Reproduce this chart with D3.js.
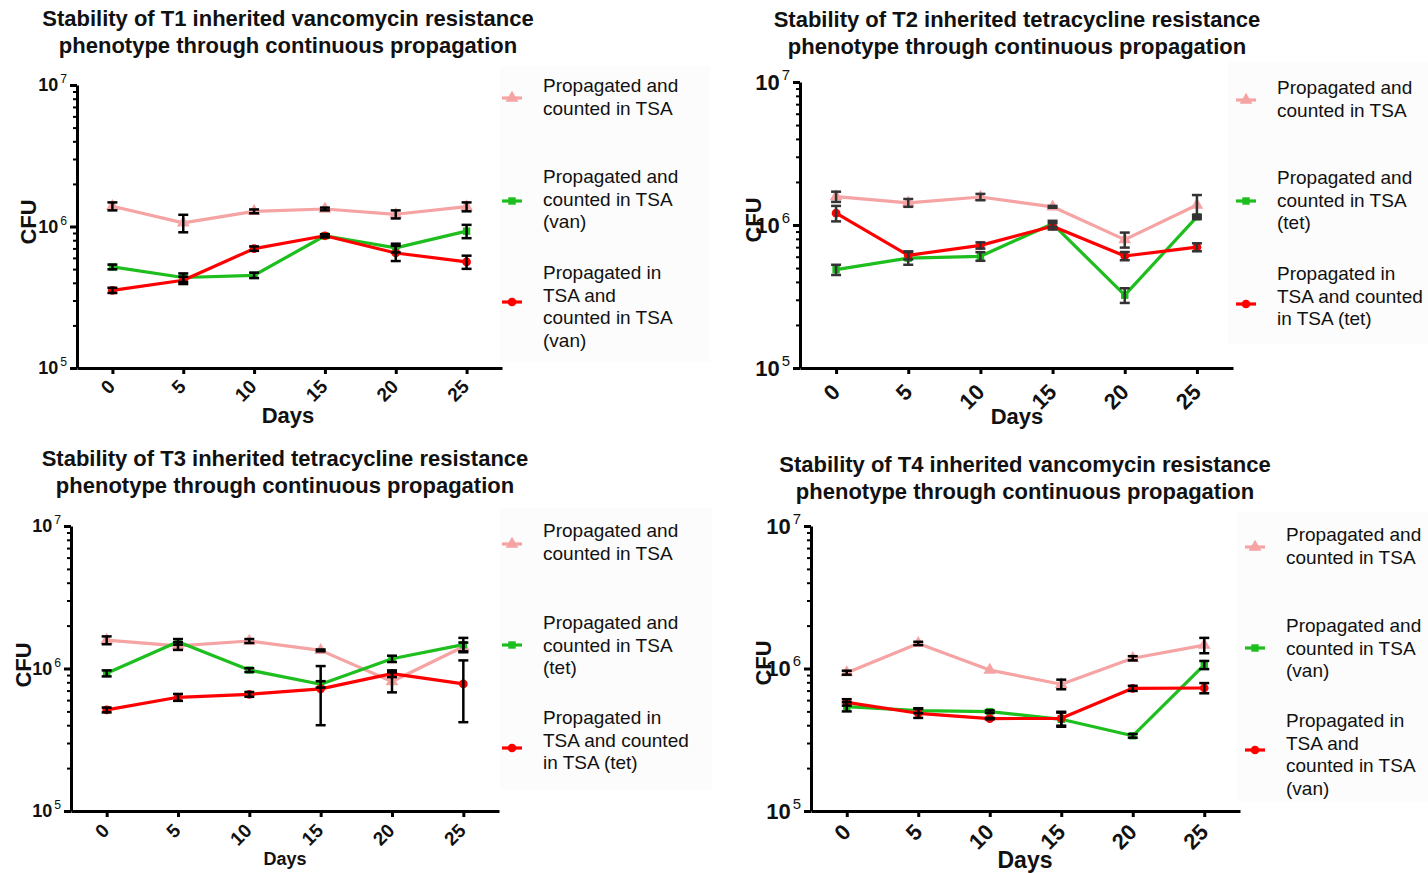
<!DOCTYPE html>
<html>
<head>
<meta charset="utf-8">
<script src="https://cdn.jsdelivr.net/npm/d3@7"></script>
<style>
  html, body { margin: 0; padding: 0; background: #ffffff; }
  svg { display: block; font-family: "Liberation Sans", Arial, sans-serif; }
</style>
</head>
<body>
<script>
// ---------------- DATA ----------------
const days = [0, 5, 10, 15, 20, 25];
const yMajorTicks = [1e5, 1e6, 1e7];
const yMinorTicks = [2e5, 3e5, 4e5, 5e5, 6e5, 7e5, 8e5, 9e5, 2e6, 3e6, 4e6, 5e6, 6e6, 7e6, 8e6, 9e6];

const titles = [
  ["Stability of T1 inherited vancomycin resistance", "phenotype through continuous propagation"],
  ["Stability of T2 inherited tetracycline resistance", "phenotype through continuous propagation"],
  ["Stability of T3 inherited tetracycline resistance", "phenotype through continuous propagation"],
  ["Stability of T4 inherited vancomycin resistance", "phenotype through continuous propagation"]
];
const xAxisLabel = "Days";
const yAxisLabel = "CFU";

const legendVan = [["Propagated and", "counted in TSA"], ["Propagated and", "counted in TSA", "(van)"], ["Propagated in", "TSA and", "counted in TSA", "(van)"]];
const legendTet = [["Propagated and", "counted in TSA"], ["Propagated and", "counted in TSA", "(tet)"], ["Propagated in", "TSA and counted", "in TSA (tet)"]];

// T1 (vancomycin)
const t1TSA = [1.39e6, 1.06e6, 1.28e6, 1.33e6, 1.22e6, 1.38e6];
const t1TSAErr = [0.09e6, 0.15e6, 0.04e6, 0.03e6, 0.08e6, 0.1e6];
const t1Drug = [5.18e5, 4.36e5, 4.52e5, 8.6e5, 7.06e5, 9.27e5];
const t1DrugErr = [0.2e5, 0.3e5, 0.2e5, 0.2e5, 0.5e5, 1.0e5];
const t1Prop = [3.54e5, 4.17e5, 6.98e5, 8.6e5, 6.5e5, 5.62e5];
const t1PropErr = [0.15e5, 0.25e5, 0.25e5, 0.2e5, 0.8e5, 0.6e5];

// T2 (tetracycline)
const t2TSA = [1.58e6, 1.43e6, 1.57e6, 1.34e6, 7.9e5, 1.38e6];
const t2TSAErr = [0.13e6, 0.09e6, 0.08e6, 0.02e6, 0.95e5, 0.24e6];
const t2Drug = [4.87e5, 5.87e5, 6.04e5, 1.02e6, 3.23e5, 1.14e6];
const t2DrugErr = [0.4e5, 0.6e5, 0.42e5, 0.5e5, 0.38e5, 0.4e5];
const t2Prop = [1.21e6, 6.14e5, 7.2e5, 9.8e5, 6.07e5, 7.0e5];
const t2PropErr = [0.15e6, 0.4e5, 0.36e5, 0.5e5, 0.4e5, 0.45e5];

// T3 (tetracycline)
const t3TSA = [1.58e6, 1.44e6, 1.56e6, 1.34e6, 8.1e5, 1.42e6];
const t3TSAErr = [0.1e6, 0.09e6, 0.05e6, 0.02e6, 1.3e5, 0.1e6];
const t3Drug = [9.25e5, 1.54e6, 9.75e5, 7.75e5, 1.17e6, 1.47e6];
const t3DrugErr = [0.45e5, 0.07e6, 0.3e5, 0.4e5, 0.06e6, 0.17e6];
const t3Prop = [5.12e5, 6.28e5, 6.59e5, 7.2e5, 9.2e5, 7.8e5];
const t3PropErr = [0.2e5, 0.35e5, 0.25e5, 3.2e5, 0.5e5, 3.6e5];

// T4 (vancomycin)
const t4TSA = [9.35e5, 1.5e6, 9.75e5, 7.75e5, 1.18e6, 1.46e6];
const t4TSAErr = [0.03e6, 0.04e6, 0, 0.06e6, 0.04e6, 0.18e6];
const t4Drug = [5.4e5, 5.06e5, 4.98e5, 4.4e5, 3.37e5, 1.06e6];
const t4DrugErr = [0.4e5, 0.2e5, 0.1e5, 0.5e5, 0.1e5, 0.07e6];
const t4Prop = [5.79e5, 4.85e5, 4.45e5, 4.47e5, 7.26e5, 7.3e5];
const t4PropErr = [0.3e5, 0.35e5, 0.05e5, 0.5e5, 0.3e5, 0.6e5];

// ---------------- STYLE / LAYOUT ----------------
const seriesStyle = [
  { color: "#F5A3A3", symbol: d3.symbolTriangle, size: 70 },
  { color: "#1DBE1D", symbol: d3.symbolSquare, size: 55 },
  { color: "#FF0000", symbol: d3.symbolCircle, size: 60 }
];

const layouts = [
  { left: 77, right: 502, top: 85, bottom: 368, titleX: 288, titleY: [26, 53], cfuX: 28, cfuY: 222, daysY: 423,
    yFont: 18, xFont: 19, daysFont: 22, xdx: -1, xdy: 15, legX: 512, legTextX: 543, legSymY: [98, 201, 302], legFirstY: [85, 176, 272],
    legBox: [500, 66, 210, 296], errColor: "#000", legend: legendVan },
  { left: 800, right: 1233, top: 82, bottom: 368, titleX: 1017, titleY: [27, 54], cfuX: 753, cfuY: 220, daysY: 424,
    yFont: 22, xFont: 22, daysFont: 22, xdx: 0, xdy: 20, legX: 1246, legTextX: 1277, legSymY: [100, 201, 304], legFirstY: [87, 177, 273],
    legBox: [1228, 62, 200, 282], errColor: "#333", legend: legendTet },
  { left: 71, right: 499, top: 526, bottom: 811, titleX: 285, titleY: [466, 493], cfuX: 23, cfuY: 665, daysY: 865,
    yFont: 18, xFont: 19, daysFont: 18, xdx: -1, xdy: 16, legX: 512, legTextX: 543, legSymY: [544, 645, 748], legFirstY: [530, 622, 717],
    legBox: [500, 508, 212, 282], errColor: "#000", legend: legendTet },
  { left: 811, right: 1240, top: 526, bottom: 811, titleX: 1025, titleY: [472, 499], cfuX: 763, cfuY: 663, daysY: 868,
    yFont: 22, xFont: 22, daysFont: 23, xdx: 0, xdy: 17, legX: 1255, legTextX: 1286, legSymY: [547, 648, 750], legFirstY: [534, 625, 720],
    legBox: [1238, 512, 190, 290], errColor: "#000", legend: legendVan }
];

const panelData = [
  [[t1TSA, t1TSAErr], [t1Drug, t1DrugErr], [t1Prop, t1PropErr]],
  [[t2TSA, t2TSAErr], [t2Drug, t2DrugErr], [t2Prop, t2PropErr]],
  [[t3TSA, t3TSAErr], [t3Drug, t3DrugErr], [t3Prop, t3PropErr]],
  [[t4TSA, t4TSAErr], [t4Drug, t4DrugErr], [t4Prop, t4PropErr]]
];

const svg = d3.select("body").append("svg").attr("width", 1428).attr("height", 873);

function drawPanel(L, data, titleLines) {
  const g = svg.append("g");
  const x = d3.scaleLinear().domain([-2.5, 27.5]).range([L.left, L.right]);
  const y = d3.scaleLog().domain([1e5, 1e7]).range([L.bottom, L.top]);

  // legend background (very faint)
  g.append("rect").attr("x", L.legBox[0]).attr("y", L.legBox[1]).attr("width", L.legBox[2]).attr("height", L.legBox[3])
    .attr("fill", "#fcfcfc");

  // title
  const t = g.append("text").attr("text-anchor", "middle").attr("font-weight", "bold").attr("font-size", 22).attr("fill", "#111");
  titleLines.forEach((line, i) => t.append("tspan").attr("x", L.titleX).attr("y", L.titleY[i]).text(line));

  // minor y ticks
  const minorAx = g.append("g").attr("transform", `translate(${L.left},0)`)
    .call(d3.axisLeft(y).tickValues(yMinorTicks).tickSize(4).tickFormat(""));
  minorAx.select(".domain").remove();
  minorAx.selectAll(".tick line").attr("stroke", "#000").attr("stroke-width", 2);

  // major y axis
  const yAx = g.append("g").attr("transform", `translate(${L.left},0)`)
    .call(d3.axisLeft(y).tickValues(yMajorTicks).tickSize(7).tickSizeOuter(0).tickFormat(""));
  yAx.select(".domain").attr("stroke", "#000").attr("stroke-width", 3);
  yAx.selectAll(".tick line").attr("stroke", "#000").attr("stroke-width", 3);
  yMajorTicks.forEach(v => {
    const tx = g.append("text").attr("x", L.left - 10).attr("y", y(v)).attr("dy", "0.35em")
      .attr("text-anchor", "end").attr("font-size", L.yFont).attr("font-weight", "bold").attr("fill", "#111");
    tx.append("tspan").text("10");
    tx.append("tspan").attr("font-size", L.yFont * 0.68).attr("font-weight", "normal").attr("dx", 2).attr("dy", -L.yFont * 0.45)
      .text(String(Math.round(Math.log10(v))));
  });

  // x axis
  const xAx = g.append("g").attr("transform", `translate(0,${L.bottom})`)
    .call(d3.axisBottom(x).tickValues(days).tickSize(6).tickSizeOuter(0).tickFormat(""));
  xAx.select(".domain").attr("stroke", "#000").attr("stroke-width", 3);
  xAx.selectAll(".tick line").attr("stroke", "#000").attr("stroke-width", 3);
  days.forEach(d => {
    g.append("text").attr("transform", `translate(${x(d) + L.xdx},${L.bottom + L.xdy}) rotate(-45)`)
      .attr("dy", "0.35em").attr("text-anchor", "end").attr("font-size", L.xFont).attr("font-weight", "bold").attr("fill", "#111")
      .text(d);
  });

  // axis titles
  g.append("text").attr("x", L.titleX).attr("y", L.daysY)
    .attr("text-anchor", "middle").attr("font-size", L.daysFont).attr("font-weight", "bold").attr("fill", "#111").text(xAxisLabel);
  g.append("text").attr("transform", `translate(${L.cfuX},${L.cfuY}) rotate(-90)`).attr("dy", "0.35em")
    .attr("text-anchor", "middle").attr("font-size", 22).attr("font-weight", "bold").attr("fill", "#111").text(yAxisLabel);

  // lines
  const lineGen = d3.line().x((d, i) => x(days[i])).y(d => y(d));
  data.forEach(([vals], si) => {
    g.append("path").datum(vals).attr("d", lineGen).attr("fill", "none")
      .attr("stroke", seriesStyle[si].color).attr("stroke-width", 3.2).attr("stroke-linejoin", "round");
  });
  // markers
  data.forEach(([vals], si) => {
    const st = seriesStyle[si];
    g.selectAll(null).data(vals).enter().append("path")
      .attr("transform", (d, i) => `translate(${x(days[i])},${y(d)})`)
      .attr("d", d3.symbol().type(st.symbol).size(st.size)).attr("fill", st.color);
  });
  // error bars
  data.forEach(([vals, errs]) => {
    vals.forEach((v, i) => {
      const e = errs[i];
      if (!e) return;
      const cx = x(days[i]);
      const y1 = y(v + e), y2 = y(Math.max(v - e, 1e5));
      const eg = g.append("g").attr("stroke", L.errColor).attr("stroke-width", 2.5).attr("fill", "none");
      eg.append("line").attr("x1", cx).attr("x2", cx).attr("y1", y1).attr("y2", y2);
      eg.append("line").attr("x1", cx - 5).attr("x2", cx + 5).attr("y1", y1).attr("y2", y1);
      eg.append("line").attr("x1", cx - 5).attr("x2", cx + 5).attr("y1", y2).attr("y2", y2);
    });
  });

  // legend
  L.legend.forEach((lines, si) => {
    const st = seriesStyle[si];
    const sy = L.legSymY[si];
    g.append("line").attr("x1", L.legX - 10).attr("x2", L.legX + 10).attr("y1", sy).attr("y2", sy)
      .attr("stroke", st.color).attr("stroke-width", 3.2);
    g.append("path").attr("transform", `translate(${L.legX},${sy})`)
      .attr("d", d3.symbol().type(st.symbol).size(st.size)).attr("fill", st.color);
    const lt = g.append("text").attr("font-size", 19).attr("fill", "#111");
    lines.forEach((ln, li) => lt.append("tspan").attr("x", L.legTextX).attr("y", L.legFirstY[si] + 7 + li * 22.6).text(ln));
  });
}

layouts.forEach((L, i) => drawPanel(L, panelData[i], titles[i]));
</script>
</body>
</html>
